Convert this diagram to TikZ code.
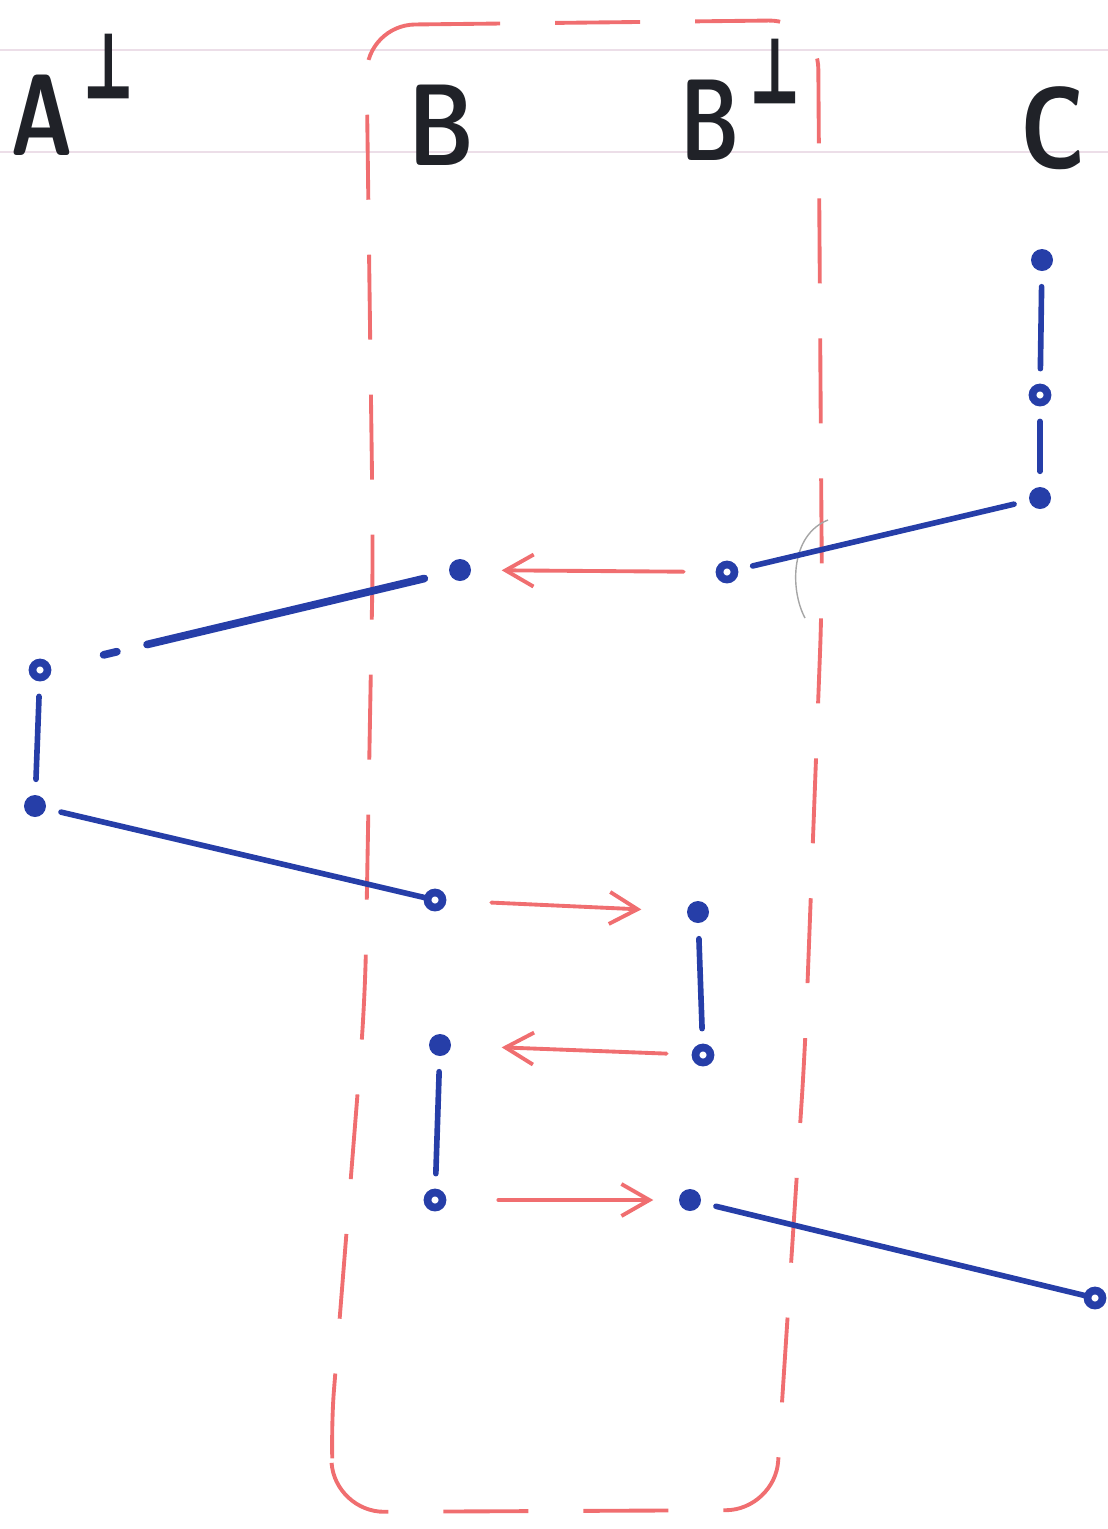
\documentclass[tikz,border=0pt]{standalone}
\usepackage{amsmath,amssymb}
\usepackage{graphicx}
\usepackage{fontspec}
\newfontfamily\simbolo[FakeBold=3]{DejaVu Sans}
\usepackage{tikz}
\usetikzlibrary{arrows.meta, calc}
\definecolor{azulTinta}{RGB}{38,62,168}
\definecolor{rojoTinta}{RGB}{240,110,112}
\definecolor{negroTinta}{RGB}{32,34,40}
\definecolor{papel}{RGB}{236,222,232}
\newcommand{\perpTinta}{\hspace{3pt}\raisebox{16.5pt}{\scalebox{0.6}[1]{\simbolo\bfseries\fontsize{25}{25}\selectfont ⊥}}}

\begin{document}
\begin{tikzpicture}[x=1cm,y=1cm,
  lleno/.style={circle, fill=azulTinta, inner sep=0pt, minimum size=0.22cm},
  hueco/.style={circle, draw=azulTinta, line width=2.2pt, fill=white, inner sep=0pt, minimum size=0.15cm},
  arista/.style={azulTinta, line width=1.6pt, line cap=round, shorten <=0.15cm, shorten >=0.15cm},
  flecha/.style={rojoTinta, line width=1.1pt, line cap=round,
    -{Straight Barb[length=2.8mm,width=3.2mm,line width=1.1pt]}},
  titulo/.style={anchor=base west, text=negroTinta, inner sep=0pt,
    font={\sffamily\bfseries\fontsize{33}{36}\selectfont}}]
  \useasboundingbox (0,0) rectangle (11.08,-15.29);
  % Lineas del papel
  \draw[papel, line width=0.6pt] (0,-0.5) -- (11.08,-0.5);
  \draw[papel, line width=0.6pt] (0,-1.52) -- (11.08,-1.52);
  % Titulos
  \node[titulo] (tA)  at (0.1,-1.55)  {\scalebox{0.74}[1]{A}\perpTinta};
  \node[titulo] (tB)  at (4.08,-1.65) {\scalebox{0.78}[1]{B}};
  \node[titulo] (tBp) at (6.8,-1.6)   {\scalebox{0.7}[1]{B}\perpTinta};
  \node[titulo] (tC)  at (10.2,-1.68) {\scalebox{0.8}[1]{C}};
  % Recuadro discontinuo
  \draw[rojoTinta, line width=1.1pt, dash pattern=on 0.85cm off 0.55cm, rounded corners=14pt]
    (3.66,-0.25) -- (8.18,-0.2) -- (8.22,-6.0) -- (8.05,-10.5) -- (7.75,-15.1)
    -- (3.35,-15.12) -- (3.3,-14.4) -- (3.65,-10.0) -- (3.73,-5.5) -- cycle;
  % Trazo a lapiz
  \draw[gray!70, line width=0.4pt] (8.28,-5.2) .. controls (7.9,-5.35) and (7.9,-5.9) .. (8.05,-6.18);
  % Vertices
  \node[lleno] (c1) at (10.42,-2.6) {};
  \node[hueco] (c2) at (10.4,-3.95) {};
  \node[lleno] (c3) at (10.4,-4.98) {};
  \node[hueco] (c4) at (10.95,-12.98) {};
  \node[hueco] (p1) at (7.27,-5.72) {};
  \node[lleno] (p2) at (6.98,-9.12) {};
  \node[hueco] (p3) at (7.03,-10.55) {};
  \node[lleno] (p4) at (6.9,-12.0) {};
  \node[lleno] (b1) at (4.6,-5.7) {};
  \node[hueco] (b2) at (4.35,-9.0) {};
  \node[lleno] (b3) at (4.4,-10.45) {};
  \node[hueco] (b4) at (4.35,-12.0) {};
  \node[hueco] (a1) at (0.4,-6.7) {};
  \node[lleno] (a2) at (0.35,-8.06) {};
  % Aristas azules
  \draw[arista] (c1) -- (c2);
  \draw[arista] (c2) -- (c3);
  \draw[arista] (c3) -- (p1);
  \draw[arista, line width=2.2pt, shorten <=0.25cm, shorten >=0.54cm,
    dash pattern=on 2.85cm off 0.31cm on 0.18cm off 5cm] (b1) -- (a1);
  \draw[arista] (a1) -- (a2);
  \draw[arista, shorten >=0pt] (a2) -- (b2);
  \draw[arista] (p2) -- (p3);
  \draw[arista] (b3) -- (b4);
  \draw[arista, shorten >=0pt] (p4) -- (c4);
  % Flechas rojas
  \draw[flecha, shorten <=0.32cm, shorten >=0.3cm] (p1) -- (b1);
  \draw[flecha, shorten <=0.45cm, shorten >=0.45cm] (b2) -- (p2);
  \draw[flecha, shorten <=0.25cm, shorten >=0.5cm] (p3) -- (b3);
  \draw[flecha, shorten <=0.52cm, shorten >=0.25cm] (b4) -- (p4);
\end{tikzpicture}
\end{document}
